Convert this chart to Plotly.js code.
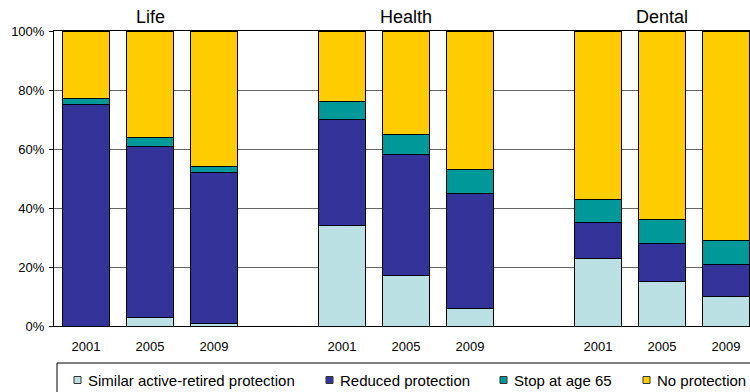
<!DOCTYPE html>
<html>
<head>
<meta charset="utf-8">
<script src="https://cdn.plot.ly/plotly-3.0.1.min.js"></script>
<style>html,body{margin:0;padding:0;background:#fff;}#chart{width:750px;height:392px;}</style>
</head>
<body>
<div id="chart"></div>
<script>
// ---- data ----
const groups = ['Life', 'Health', 'Dental'];
const years = ['2001', '2005', '2009'];
const seriesNames = ['Similar active-retired protection', 'Reduced protection', 'Stop at age 65', 'No protection'];
const similar = [0, 3, 1, 34, 17, 6, 23, 15, 10];
const reduced = [75, 58, 51, 36, 41, 39, 12, 13, 11];
const stopAt65 = [2, 3, 2, 6, 7, 8, 8, 8, 8];
const noProtection = [23, 36, 46, 24, 35, 47, 57, 64, 71];
const yTicks = [0, 20, 40, 60, 80, 100];
const yTickLabels = ['0%', '20%', '40%', '60%', '80%', '100%'];

// ---- build ----
const colors = ['#BBE0E3', '#333399', '#009999', '#FFCC00'];
const values = [similar, reduced, stopAt65, noProtection];
const slotsPerGroup = years.length + 1;
const xs = [], tickText = [];
groups.forEach((g, gi) => years.forEach((y, yi) => { xs.push(gi * slotsPerGroup + yi); tickText.push(y); }));

const traces = values.map((v, i) => ({
  type: 'bar', x: xs, y: v, name: seriesNames[i], width: 0.72,
  marker: {color: colors[i], line: {color: '#000', width: 1}},
  showlegend: false, hoverinfo: 'y+name'
}));

const font = '"Liberation Sans", Arial, sans-serif';
const annotations = groups.map((g, gi) => ({
  text: g, x: gi * slotsPerGroup + (years.length - 1) / 2, xref: 'x',
  y: 1.047, yref: 'paper', showarrow: false, xanchor: 'center', yanchor: 'middle',
  font: {family: font, size: 18, color: '#000'}
}));

// manual legend (pixel layout converted to paper coords)
const L = 54, T = 31, W = 696, H = 295;
const px = p => (p - L) / W, py = p => (T + H - p) / H;
const shapes = [{
  type: 'rect', xref: 'paper', yref: 'paper',
  x0: px(57), x1: px(770), y0: py(363), y1: py(400),
  line: {color: '#000', width: 1}, fillcolor: 'rgba(0,0,0,0)'
}];
const sqX = [74, 326, 500, 643];
seriesNames.forEach((n, i) => {
  shapes.push({type: 'rect', xref: 'paper', yref: 'paper',
    x0: px(sqX[i]), x1: px(sqX[i] + 7), y0: py(376.5), y1: py(383.5),
    line: {color: '#333', width: 1}, fillcolor: colors[i]});
  annotations.push({text: n, xref: 'paper', yref: 'paper', x: px(sqX[i] + 12), y: py(380),
    xanchor: 'left', yanchor: 'middle', showarrow: false,
    font: {family: font, size: 15, color: '#000'}});
});

const layout = {
  width: 750, height: 392,
  margin: {l: L, r: 750 - L - W, t: T, b: 392 - T - H, pad: 0},
  paper_bgcolor: '#fff', plot_bgcolor: '#fff',
  barmode: 'stack', showlegend: false,
  font: {family: font, size: 13, color: '#000'},
  xaxis: {range: [-0.5, 10.375], tickmode: 'array', tickvals: xs, ticktext: tickText, showgrid: false,
    zeroline: false, showline: true, linecolor: '#000', linewidth: 1, mirror: true,
    ticks: '', ticklabelstandoff: 8, tickfont: {family: font, size: 13, color: '#000'}, fixedrange: true},
  yaxis: {range: [0, 100], tickmode: 'array', tickvals: yTicks, ticktext: yTickLabels, showgrid: true, gridcolor: '#666', gridwidth: 1,
    zeroline: false, showline: true, linecolor: '#000', linewidth: 1,
    ticks: 'outside', ticklen: 4, tickcolor: '#000', ticklabelstandoff: 2,
    tickfont: {family: font, size: 13, color: '#000'}, fixedrange: true},
  annotations: annotations, shapes: shapes
};
Plotly.newPlot('chart', traces, layout, {displayModeBar: false, staticPlot: true});
</script>
</body>
</html>
